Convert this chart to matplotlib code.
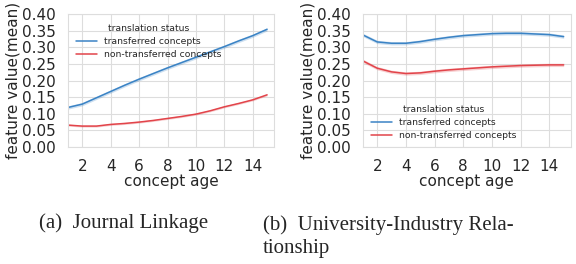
import matplotlib
matplotlib.use('Agg')
import matplotlib.pyplot as plt
import seaborn as sns

sns.set_style('whitegrid')
plt.rcParams['font.family'] = ['DejaVu Sans']

age = list(range(1, 16))

# (a) Journal Linkage
jl_transferred = [0.119, 0.129, 0.148, 0.167, 0.186, 0.204, 0.221, 0.238,
                  0.254, 0.270, 0.286, 0.302, 0.319, 0.335, 0.354]
jl_non = [0.066, 0.063, 0.063, 0.068, 0.071, 0.075, 0.080, 0.086,
          0.092, 0.099, 0.109, 0.121, 0.131, 0.142, 0.157]
jl_ci = [0.005, 0.003]

# (b) University-Industry Relationship
uir_transferred = [0.337, 0.316, 0.312, 0.312, 0.317, 0.324, 0.330, 0.335,
                   0.338, 0.341, 0.342, 0.342, 0.340, 0.338, 0.332]
uir_non = [0.259, 0.237, 0.226, 0.221, 0.223, 0.228, 0.232, 0.235,
           0.238, 0.241, 0.243, 0.245, 0.246, 0.247, 0.247]
uir_ci = [0.005, 0.005]

labels = ['transferred concepts', 'non-transferred concepts']
colors = ['#3a83c5', '#e2444a']
yticks = [0.0, 0.05, 0.10, 0.15, 0.20, 0.25, 0.30, 0.35, 0.40]
xticks = [2, 4, 6, 8, 10, 12, 14]
captions = ['(a)  Journal Linkage', '(b)  University-Industry Rela-\ntionship']

fig = plt.figure(figsize=(5.76, 2.64), dpi=100)
ax1 = fig.add_axes([0.118, 0.443, 0.358, 0.504])
ax2 = fig.add_axes([0.630, 0.443, 0.361, 0.504])

panels = [(ax1, [jl_transferred, jl_non], jl_ci, 'upper left', (0.0, 0.99)),
          (ax2, [uir_transferred, uir_non], uir_ci, 'lower left', (0.0, -0.01))]

for ax, series, ci, loc, anchor in panels:
    for vals, ci_w, lab, col in zip(series, ci, labels, colors):
        ax.fill_between(age, [v - ci_w for v in vals], [v + ci_w for v in vals],
                        color=col, alpha=0.25, lw=0)
        ax.plot(age, vals, color=col, lw=1.1, label=lab)
    ax.set_xlim(1, 15.5)
    ax.set_ylim(0, 0.40)
    ax.set_yticks(yticks)
    ax.set_yticklabels([f'{t:.2f}' for t in yticks])
    ax.set_xticks(xticks)
    ax.tick_params(labelsize=11, colors='.15', pad=5)
    ax.set_xlabel('concept age', fontsize=11, color='.15', labelpad=0)
    ax.set_ylabel('feature value(mean)', fontsize=11, color='.15', labelpad=1)
    ax.grid(color='#dddddd', lw=0.8)
    for sp in ax.spines.values():
        sp.set_color('#dddddd')
    leg = ax.legend(title='translation status', loc=loc, bbox_to_anchor=anchor,
                    frameon=False, fontsize=6.7, title_fontsize=6.7,
                    handlelength=2.2, labelspacing=0.45)
    for t in leg.get_texts():
        t.set_color('.15')
    leg.get_title().set_color('.15')

fig.text(0.215, 0.136, captions[0], ha='center', va='baseline',
         family='Liberation Serif', fontsize=15)
fig.text(0.457, 0.185, captions[1], ha='left', va='top',
         family='Liberation Serif', fontsize=15, linespacing=1.3)

fig.savefig('out.png', dpi=100)
